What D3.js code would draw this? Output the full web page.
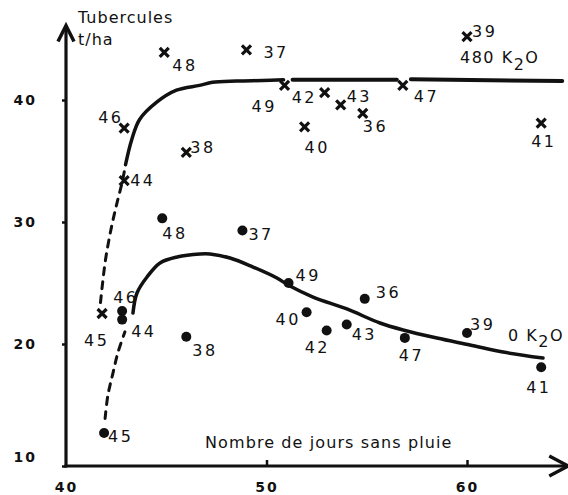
<!DOCTYPE html>
<html>
<head>
<meta charset="utf-8">
<script src="https://cdn.jsdelivr.net/npm/d3@7"></script>
<style>
  body { margin: 0; background: #fff; }
  svg { display: block; font-family: "DejaVu Sans", sans-serif; }
  .lbl { font-size: 16px; letter-spacing: 2.5px; fill: #111; }
  .tick text { font-size: 14px; font-weight: bold; letter-spacing: 2px; fill: #111; font-family: "DejaVu Sans", sans-serif; }
</style>
</head>
<body>
<svg id="chart" width="568" height="495"></svg>
<script>
// 480 kg K2O plots (crosses): year, dry days, yield t/ha
var years480 = [48, 46, 38, 37, 49, 42, 43, 40, 36, 47, 39, 41, 44, 45];
var days480 = [44.9, 42.9, 46.0, 49.0, 50.9, 52.9, 53.7, 51.9, 54.8, 56.8, 60.0, 63.7, 42.9, 41.8];
var yield480 = [43.9, 37.7, 35.7, 44.1, 41.2, 40.6, 39.6, 37.8, 38.9, 41.2, 45.2, 38.1, 33.4, 22.5];

// 0 K2O plots (dots)
var years0 = [48, 37, 46, 44, 45, 38, 49, 40, 42, 43, 36, 47, 39, 41];
var days0 = [44.8, 48.8, 42.8, 42.8, 41.9, 46.0, 51.1, 52.0, 53.0, 54.0, 54.9, 56.9, 60.0, 63.7];
var yield0 = [30.3, 29.3, 22.7, 22.0, 12.7, 20.6, 25.0, 22.6, 21.1, 21.6, 23.7, 20.5, 20.9, 18.1];

// fitted curves
var curve480DashX = [41.72, 41.97, 42.27, 42.52, 42.82, 42.97];
var curve480DashY = [23.4, 26.9, 29.6, 31.4, 33.4, 34.7];
var curve480X = [42.97, 43.27, 43.67, 44.51, 45.51, 46.66, 47.3, 48.5, 49.8, 50.85];
var curve480Y = [34.7, 36.7, 38.4, 39.8, 40.8, 41.2, 41.45, 41.55, 41.6, 41.65];
var curve480bX = [51.3, 56.5];
var curve480bY = [41.65, 41.65];
var curve480cX = [57.2, 64.75];
var curve480cY = [41.7, 41.55];

var curve0DashX = [41.95, 42.09, 42.34, 42.59, 42.94];
var curve0DashY = [13.9, 15.8, 17.6, 19.3, 21.0];
var curve0X = [43.34, 43.54, 44.04, 44.69, 45.54, 46.68, 47.18, 48.18, 49.33, 50.52, 51.17, 52.32, 54.01, 55.66, 56.81, 58.50, 60.15, 61.80, 63.79];
var curve0Y = [22.54, 24.18, 25.49, 26.64, 27.13, 27.38, 27.38, 27.05, 26.31, 25.41, 24.75, 23.85, 22.87, 21.72, 21.15, 20.49, 19.92, 19.34, 18.85];

var xTicks = [40, 50, 60];
var yTicks = [10, 20, 30, 40];

// label placement around each mark (px), layout only
var lblOff480 = [[8, 19], [-26, -5], [4, 1], [17, 8], [-33, 27], [-33, 10], [6, -3],
                 [0, 26], [0, 19], [11, 17], [5, 0], [-10, 24], [6, 5], [-18, 32]];
var lblOff0 = [[0, 21], [6, 9], [-9, -8], [9, 17], [4, 9], [6, 19], [7, -2],
               [-31, 13], [-22, 22], [5, 16], [11, -1], [-6, 23], [3, -3], [-15, 26]];

var svg = d3.select('#chart');
var x = d3.scaleLinear().domain([40, 60]).range([66, 467]);
var y = d3.scaleLinear().domain([10, 40]).range([466, 100]);
var ink = '#111';

function zip(xs, ys) {
  return xs.map(function(v, i) { return [v, ys[i]]; });
}

var line = d3.line()
    .x(function(d) { return x(d[0]); })
    .y(function(d) { return y(d[1]); })
    .curve(d3.curveCatmullRom);

// axes
var yAxis = d3.axisLeft(y).tickValues(yTicks).tickSize(4).tickPadding(25);
var xAxis = d3.axisBottom(x).tickValues(xTicks).tickSizeInner(-6).tickSizeOuter(0).tickPadding(16);

var gy = svg.append('g').attr('transform', 'translate(' + x(40) + ',0)').call(yAxis);
var gx = svg.append('g').attr('transform', 'translate(0,' + y(10) + ')').call(xAxis);
[gx, gy].forEach(function(g) {
  g.select('.domain').remove();
  g.selectAll('.tick line').attr('stroke', ink).attr('stroke-width', 2.5);
});
gx.selectAll('.tick').filter(function(d) { return d === 40; }).select('line').remove();
gy.selectAll('.tick').filter(function(d) { return d === 10; }).select('text').attr('dy', '-0.3em');
gy.selectAll('.tick text').attr('font-size', 14);

var yTop = y(46.1), xEnd = x(65.05);
svg.append('line').attr('x1', x(40)).attr('x2', x(40)).attr('y1', y(10) + 1.5).attr('y2', yTop + 2)
   .attr('stroke', ink).attr('stroke-width', 3.2);
svg.append('line').attr('x1', x(40) - 1.5).attr('x2', xEnd - 2).attr('y1', y(10)).attr('y2', y(10))
   .attr('stroke', ink).attr('stroke-width', 3.2);
svg.append('path')
   .attr('d', 'M' + (x(40) - 8) + ',' + (yTop + 16) + 'L' + x(40) + ',' + yTop + 'L' + (x(40) + 8) + ',' + (yTop + 16))
   .attr('fill', 'none').attr('stroke', ink).attr('stroke-width', 3.5).attr('stroke-linejoin', 'miter');
svg.append('path')
   .attr('d', 'M' + (xEnd - 19) + ',' + (y(10) - 10) + 'L' + xEnd + ',' + y(10) + 'L' + (xEnd - 19) + ',' + (y(10) + 10))
   .attr('fill', 'none').attr('stroke', ink).attr('stroke-width', 3.5);

// curves
function drawCurve(xs, ys, dashed, width) {
  svg.append('path')
     .datum(zip(xs, ys))
     .attr('d', line)
     .attr('fill', 'none')
     .attr('stroke', ink)
     .attr('stroke-width', width)
     .attr('stroke-linecap', 'round')
     .attr('stroke-dasharray', dashed ? '7,7' : null);
}
drawCurve(curve480DashX, curve480DashY, true, 3);
drawCurve(curve480X, curve480Y, false, 3.5);
drawCurve(curve480bX, curve480bY, false, 4);
drawCurve(curve480cX, curve480cY, false, 4);
drawCurve(curve0DashX, curve0DashY, true, 3);
drawCurve(curve0X, curve0Y, false, 3.5);

// crosses
svg.append('g').selectAll('path')
    .data(zip(days480, yield480))
    .enter().append('path')
    .attr('d', function(d) {
      var cx = x(d[0]), cy = y(d[1]), r = 4.5;
      return 'M' + (cx - r) + ',' + (cy - r) + 'L' + (cx + r) + ',' + (cy + r) +
             'M' + (cx - r) + ',' + (cy + r) + 'L' + (cx + r) + ',' + (cy - r);
    })
    .attr('stroke', ink).attr('stroke-width', 3.2);

svg.append('g').selectAll('circle')
    .data(zip(days0, yield0))
    .enter().append('circle')
    .attr('cx', function(d) { return x(d[0]); })
    .attr('cy', function(d) { return y(d[1]); })
    .attr('r', 5)
    .attr('fill', ink);

function yearLabels(xs, ys, years, offs) {
  svg.append('g').selectAll('text')
     .data(years)
     .enter().append('text')
     .attr('class', 'lbl')
     .attr('x', function(d, i) { return x(xs[i]) + offs[i][0]; })
     .attr('y', function(d, i) { return y(ys[i]) + offs[i][1]; })
     .text(function(d) { return d; });
}
yearLabels(days480, yield480, years480, lblOff480);
yearLabels(days0, yield0, years0, lblOff0);

// titles
svg.append('text').attr('class', 'lbl').attr('x', 78).attr('y', 23).style('letter-spacing', '1px').text('Tubercules');
svg.append('text').attr('class', 'lbl').attr('x', 78).attr('y', 45).style('letter-spacing', '1px').text('t/ha');
svg.append('text').attr('class', 'lbl').attr('x', 205).attr('y', 448).style('letter-spacing', '1.1px')
   .text('Nombre de jours sans pluie');

var k480 = svg.append('text').attr('class', 'lbl').attr('x', 460).attr('y', 63).style('letter-spacing', '1.5px');
k480.append('tspan').text('480 K');
k480.append('tspan').attr('dy', 7).text('2');
k480.append('tspan').attr('dy', -7).text('O');

var k0 = svg.append('text').attr('class', 'lbl').attr('x', 508).attr('y', 341).style('letter-spacing', '1.5px');
k0.append('tspan').text('0 K');
k0.append('tspan').attr('dy', 6).text('2');
k0.append('tspan').attr('dy', -6).text('O');
</script>
</body>
</html>
